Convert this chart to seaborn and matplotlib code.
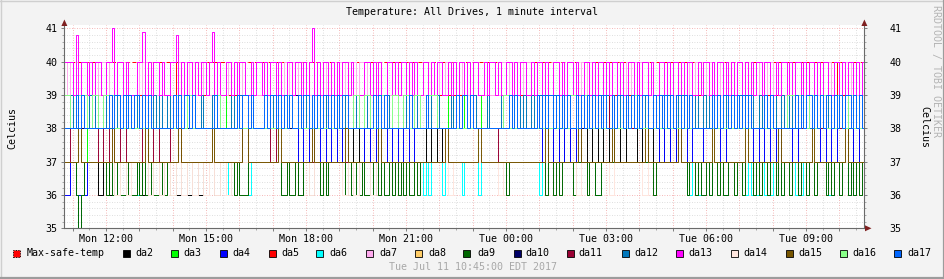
import datetime as dt
import numpy as np
import pandas as pd
import matplotlib
matplotlib.use("Agg")
import matplotlib.pyplot as plt
import matplotlib.dates as mdates
from matplotlib.ticker import MultipleLocator, FuncFormatter
from matplotlib.patches import Rectangle, Polygon
from matplotlib.lines import Line2D
import seaborn as sns

# ---------------- data ----------------
TITLE = "Temperature: All Drives, 1 minute interval"
Y_LABEL = "Celcius"
STAMP = "Tue Jul 11 10:45:00 EDT 2017"
WATERMARK = "RRDTOOL / TOBI OETIKER"
START = "2017-07-10 10:45"
END = "2017-07-11 10:45"
FINE_MIN = 5      # sampling of the dense series (minutes)
COARSE_MIN = 10   # sampling of the sparse series (minutes)
Y_MIN, Y_MAX = 35, 41

series_names = ["Max-safe-temp", "da2", "da3", "da4", "da5", "da6", "da7", "da8", "da9",
                "da10", "da11", "da12", "da13", "da14", "da15", "da16", "da17"]
series_colors = ["#FF0000", "#000000", "#00FF00", "#0000FF", "#FF0000", "#00FFFF", "#FFAAEE",
                 "#FFCC66", "#006600", "#000066", "#990033", "#0077BB", "#FF00FF", "#FFE6DE",
                 "#775500", "#88FF88", "#0066FF"]

max_safe_temp = [40, 40]

da2 = [37,37,37,37,37,37,36,37,36,37,37,37,
       37,37,36,37,37,36,37,37,36,37,36,37,
       36,37,37,36,37,37,37,37,37,37,37,37,
       37,37,37,37,37,37,36,37,36,37,37,37,
       37,37,38,37,38,37,38,37,37,37,37,37,
       37,37,37,37,37,38,37,38,37,37,37,37,
       37,37,37,37,37,37,37,37,37,37,37,37,
       37,37,37,38,37,38,37,38,38,37,38,37,
       38,37,38,37,38,37,37,38,37,38,37,38,
       37,38,37,37,37,37,37,37,37,37,37,37,
       37,37,37,37,37,37,37,37,37,37,37,37,
       37,37,37,37,37,37,37,37,37,38,37,38]

da3 = [38,38,38,37,38,38,38,38,38,38,38,38,
       38,38,38,38,38,38,38,38,39,38,38,38,
       38,38,38,38,38,39,38,38,38,38,38,38,
       38,38,38,38,38,38,38,38,38,38,39,38,
       38,38,39,38,38,39,38,38,38,39,38,38,
       38,38,39,38,38,38,39,38,38,39,38,38,
       39,38,38,39,38,38,38,38,39,38,38,38,
       38,38,39,38,38,38,38,38,38,38,38,38,
       39,38,38,38,38,38,38,38,38,38,38,38,
       38,38,38,38,39,38,38,38,38,38,38,38,
       38,38,38,38,38,39,38,39,38,38,38,38,
       38,38,38,38,38,38,38,38,39,38,38,38]

da4 = [36,37,36,36,37,37,37,37,37,37,37,37,
       37,37,37,37,37,37,37,37,37,37,37,37,
       37,37,37,37,37,37,37,37,38,37,37,37,
       37,37,37,37,37,37,38,37,38,37,38,37,
       38,37,38,37,37,37,38,37,38,37,38,37,
       38,37,38,37,37,37,37,37,37,37,37,37,
       37,37,37,37,37,37,37,37,37,37,37,37,
       37,37,38,37,38,37,38,37,38,37,37,37,
       37,37,37,37,37,37,37,37,37,37,37,38,
       37,38,37,38,37,38,38,37,37,37,38,37,
       37,37,37,37,38,37,38,37,38,37,37,38,
       37,37,37,37,38,37,38,37,37,37,38,37]

da5 = [39,39,39,39,39,39,39,39,40,39,39,39,
       39,39,39,39,39,39,39,39,40,39,39,39,
       39,39,40,39,39,39,39,39,39,39,39,39,
       39,39,40,39,39,39,39,39,40,39,39,39,
       39,39,40,39,39,39,39,39,39,39,39,39,
       39,39,39,39,39,39,39,39,40,39,39,39,
       39,39,39,39,39,39,39,39,39,39,39,39,
       39,39,39,39,39,39,39,39,39,39,40,39,
       39,39,39,39,39,39,39,40,39,39,39,39,
       39,39,39,39,39,39,39,39,39,39,39,39,
       39,39,39,39,40,39,39,39,39,39,39,39,
       39,40,39,39,39,39,40,39,39,40,39,39]

da6 = [37,37,37,37,36,35,36,37,37,37,37,37,37,37,37,37,37,37,37,37,37,37,37,37,
       37,37,36,37,37,37,37,37,37,37,37,37,37,37,37,37,37,37,37,37,37,37,37,37,
       37,37,37,37,37,37,37,37,37,37,37,36,37,37,37,37,37,37,36,37,37,37,37,37,
       37,37,37,37,37,37,37,37,37,37,37,37,37,37,37,37,37,37,37,37,37,37,37,37,
       37,37,37,37,37,37,37,37,37,37,37,37,37,37,37,37,37,37,37,37,37,37,37,37,
       37,37,37,37,37,37,37,37,37,36,37,36,37,37,37,37,36,37,37,37,37,37,37,36,
       37,37,37,37,37,36,37,37,37,37,37,37,37,37,37,37,37,37,37,37,37,37,37,37,
       37,37,37,36,37,37,37,37,37,37,37,37,37,37,37,37,37,37,37,37,37,37,37,36,
       36,37,37,37,37,37,37,37,37,37,37,37,37,37,37,37,37,37,37,37,37,37,37,37,
       37,37,37,37,37,37,37,37,36,36,37,37,36,37,37,37,36,37,37,37,37,36,36,37,
       37,37,37,37,37,36,37,36,37,36,37,37,36,37,36,37,37,37,36,37,37,37,37,36,
       37,36,37,36,37,37,37,37,37,37,37,36,36,37,37,37,37,37,36,37,36,37,37,37]

da7 = [40,39,40,39,39,39,39,39,39,39,39,40,39,40,40,39,40,41,39,39,39,39,39,39,
       39,39,39,40,39,40,39,39,39,39,39,39,39,39,39,39,39,40,39,40,40,39,40,39,
       40,39,40,39,39,39,39,39,39,39,39,40,39,40,39,40,39,39,39,39,39,39,39,39,
       40,39,40,40,39,40,39,40,40,39,40,39,40,39,39,39,39,39,39,39,39,40,39,39,
       39,39,39,40,39,40,40,39,40,39,40,40,39,40,39,39,39,39,39,39,39,39,39,39,
       39,39,39,39,39,39,39,39,39,39,39,39,39,39,39,40,39,40,40,39,40,39,40,39,
       39,39,39,39,39,39,39,39,39,39,39,39,39,40,40,39,40,40,39,40,40,39,40,40,
       40,39,40,40,39,40,39,39,39,39,39,39,39,39,39,39,40,39,40,40,39,40,39,39,
       40,40,39,40,39,40,40,39,40,39,40,40,39,40,39,40,39,39,39,39,39,39,39,39,
       39,39,39,39,39,39,39,39,39,40,39,40,40,39,40,39,40,40,39,40,39,39,39,39,
       39,39,39,39,39,39,39,39,39,39,40,40,39,40,40,39,40,39,39,39,39,39,39,39,
       39,39,39,39,39,39,39,39,39,39,39,40,39,40,40,39,40,40,39,40,39,39,39,39]

da8 = [38,38,38,38,38,38,38,38,39,38,38,38,
       38,38,38,38,38,38,38,38,38,38,38,38,
       38,38,38,38,38,38,38,38,38,38,38,38,
       38,38,38,38,38,38,38,38,38,38,38,38,
       38,38,38,38,38,38,38,38,38,38,38,38,
       38,38,38,38,38,38,38,38,38,38,38,38,
       38,38,38,38,38,38,38,38,38,38,38,38,
       38,38,38,38,38,39,38,38,38,38,38,38,
       38,38,38,38,38,38,38,38,38,38,38,38,
       38,38,38,38,38,38,38,38,38,38,38,38,
       38,38,38,38,38,38,38,38,38,38,38,38,
       38,38,38,38,38,38,38,38,38,38,38,38]

da9 = [37,37,37,37,36,35,36,37,37,37,37,37,37,37,37,36,37,36,36,37,36,36,37,36,
       36,36,37,36,37,36,36,37,36,36,37,36,36,37,36,36,37,37,37,37,37,37,37,37,
       37,37,37,37,37,37,37,37,37,37,37,37,37,36,37,36,36,36,37,37,37,37,37,37,
       37,37,37,37,37,37,36,36,37,36,36,37,36,36,37,37,37,37,37,37,36,37,36,37,
       37,37,37,37,37,36,37,36,36,37,36,37,36,36,37,36,37,36,37,36,36,37,36,37,
       36,37,36,37,36,36,37,36,37,37,37,37,37,37,37,37,37,37,37,37,37,37,37,37,
       37,37,37,37,37,37,37,37,37,37,37,37,37,37,37,36,37,37,37,37,37,37,37,37,
       37,37,37,37,37,36,37,37,36,37,36,37,37,37,37,36,37,37,37,37,36,37,37,36,
       36,37,37,37,37,37,37,37,37,37,37,37,37,37,37,37,37,37,37,37,36,37,37,37,
       37,37,37,37,37,37,37,37,36,37,37,36,37,36,36,37,36,37,37,36,37,36,36,37,
       37,36,37,37,36,37,37,37,36,37,36,37,37,36,37,37,36,37,36,37,37,36,37,37,
       36,37,37,36,37,37,36,37,37,37,36,37,36,37,37,36,37,37,36,37,36,37,36,37]

da10 = [38,38,38,38,38,38,38,38,38,38,38,38,
        38,38,38,38,38,38,38,38,38,38,38,38,
        38,38,38,38,38,38,38,38,38,38,38,38,
        38,38,38,38,38,39,38,38,38,38,38,38,
        38,38,38,38,39,38,38,38,38,38,38,38,
        38,38,38,38,38,38,38,38,38,38,38,38,
        38,38,38,38,38,38,38,38,38,38,38,38,
        38,38,38,38,39,38,39,38,38,38,38,38,
        38,38,39,38,38,38,38,38,38,38,39,38,
        39,38,39,38,38,38,38,38,38,38,38,38,
        38,38,38,38,38,38,38,38,38,38,38,38,
        38,38,38,38,38,39,38,38,38,38,38,38]

da11 = [38,37,37,37,37,37,38,37,38,37,38,37,
        37,37,38,37,38,37,37,38,38,37,37,37,
        37,37,37,37,37,37,37,37,37,37,37,37,
        37,38,37,37,37,37,37,37,37,37,37,37,
        37,37,37,37,37,37,37,37,37,37,37,37,
        37,37,37,37,37,37,37,37,37,37,37,37,
        37,37,37,37,37,37,38,38,38,38,38,38,
        38,38,38,38,38,39,38,39,38,39,39,38,
        39,38,39,38,38,38,38,38,38,38,38,38,
        39,38,39,39,38,38,38,38,38,38,38,38,
        38,38,38,38,38,38,38,38,38,38,38,38,
        38,38,38,38,38,38,38,38,38,38,38,38]

da12 = [38,38,39,38,38,39,39,38,38,39,38,39,38,38,39,38,38,39,38,39,38,38,39,38,
        39,38,39,38,38,39,38,38,39,38,39,38,38,39,38,38,38,39,38,38,39,38,39,38,
        38,39,38,38,38,39,38,39,38,38,38,38,39,38,38,39,38,38,38,39,38,38,38,38,
        38,38,38,39,38,38,39,38,38,39,38,38,39,38,39,38,38,38,39,38,38,39,38,38,
        39,38,39,38,38,39,38,38,38,39,38,38,38,39,38,38,39,38,38,38,39,38,38,38,
        38,38,39,38,38,38,39,38,38,38,38,39,38,38,39,38,38,38,38,39,38,38,38,38,
        38,38,38,39,38,38,38,38,39,38,38,38,38,39,38,38,39,38,38,39,38,39,38,38,
        39,38,38,39,38,39,38,38,39,38,39,38,38,39,38,38,39,38,39,38,38,38,39,38,
        38,39,38,39,39,38,38,39,38,39,38,38,39,38,39,38,38,39,38,38,39,38,38,39,
        38,39,38,38,39,38,39,38,38,39,38,39,38,38,39,38,39,38,38,39,38,38,39,38,
        39,38,38,39,38,39,38,39,38,38,39,38,39,38,38,39,38,38,39,38,39,38,39,38,
        38,39,38,39,38,38,39,38,39,38,39,38,38,39,38,39,38,39,38,38,39,38,39,38]

da13 = [40,40,40,39,40.8,39,40,40,39,40,39,40,40,39,39,40,40,41,39,40,40,39,40,39,
        39,39,40,40,40.9,39,40,39,40,40,39,40,39,39,40,40,40.8,39,40,39,40,40,39,40,
        39,40,40,39,40,40.9,39,40,39,39,40,40,39,40,39,40,40,39,39,40,39,40,40,39,
        40,39,40,40,39,40,39,39,40,40,39,40,40,39,40,39,40,41,39,40,39,40,40,39,
        40,39,40,39,40,40,39,40,39,39,39,39,40,40,39,40,39,40,39,39,40,40,39,40,
        39,40,40,39,40,39,40,39,39,40,40,39,40,39,40,40,39,39,40,39,40,39,40,40,
        39,40,39,40,40,39,39,40,39,40,40,39,40,39,39,40,40,39,40,39,40,40,39,39,
        40,39,40,40,39,40,39,39,40,40,39,40,39,40,40,39,40,39,39,40,40,39,40,39,
        40,40,39,40,39,40,40,39,40,39,39,40,40,39,40,39,40,40,39,40,39,39,40,40,
        39,40,39,40,40,39,40,39,40,40,39,39,40,39,40,40,39,40,39,40,40,39,40,39,
        40,39,40,40,39,40,39,40,39,40,40,39,40,40,39,39,40,39,40,40,39,40,39,40,
        40,39,40,39,40,40,39,40,39,40,40,39,39,40,40,39,40,39,40,40,39,40,39,40]

da14 = [37,37,37,37,37,37,37,37,37,36,37,36,
        37,37,37,36,37,36,37,36,37,36,37,36,
        37,36,37,36,37,36,37,37,37,37,37,37,
        37,37,37,37,37,37,37,37,36,37,37,37,
        37,37,36,37,36,37,37,36,37,37,37,37,
        37,37,37,37,37,37,37,37,37,36,37,37,
        37,37,37,37,37,37,36,37,37,37,37,37,
        37,37,37,37,37,37,37,37,36,37,37,37,
        37,37,36,37,37,37,37,37,36,37,37,37,
        37,37,37,37,37,37,37,37,37,37,37,37,
        37,37,37,37,37,37,37,37,37,37,37,37,
        37,37,37,37,37,37,37,37,37,37,37,37]

da15 = [37,37,37,37,37,38,37,37,37,37,37,37,37,37,37,37,37,39,37,37,37,37,37,37,
        37,37,37,37,37,38,37,37,37,37,37,37,37,37,37,37,37,38,37,37,37,37,37,37,
        37,37,37,37,37,38,37,37,37,37,37,37,37,37,37,37,38,38,37,37,37,37,37,37,
        37,37,37,37,37,38,37,37,37,37,37,37,37,37,37,37,37,38,37,37,37,37,37,37,
        37,37,37,37,37,38,37,37,37,37,37,37,37,37,37,37,37,38,37,37,37,37,37,37,
        37,37,37,37,37,37,37,37,37,37,37,37,37,37,37,37,37,38,37,37,37,37,37,37,
        37,37,37,37,37,38,37,37,37,37,37,37,37,37,37,37,37,37,37,37,37,37,37,37,
        37,37,37,37,37,38,37,37,37,37,37,37,37,37,37,37,37,38,37,37,37,37,37,37,
        37,37,37,37,37,38,37,37,37,37,37,37,37,37,37,37,37,38,37,37,37,37,37,37,
        37,37,37,37,37,38,37,37,37,37,37,37,37,37,37,37,37,38,37,37,37,37,37,37,
        37,37,37,37,37,38,37,37,37,37,37,37,37,37,37,37,37,38,37,37,37,37,37,37,
        37,37,37,37,37,38,37,37,37,37,37,37,37,37,37,37,37,38,37,37,37,37,37,37]

da16 = [39,38,39,39,38,39,38,39,39,38,38,38,
        38,38,38,38,38,38,38,38,39,38,39,38,
        38,38,38,39,38,38,38,38,38,38,38,38,
        38,38,38,38,39,38,38,38,38,38,38,38,
        38,38,39,38,39,38,39,38,38,39,38,39,
        38,39,38,39,38,39,39,38,38,38,38,38,
        38,38,38,38,38,38,38,39,38,38,38,38,
        38,38,38,38,38,38,38,39,38,39,38,38,
        38,38,38,38,38,38,39,38,38,38,38,38,
        38,38,38,38,38,38,38,38,38,38,38,38,
        38,38,38,38,38,38,38,38,38,38,39,39,
        39,38,39,38,39,38,38,39,38,39,38,38]

da17 = [38,38,38,38,39,38,39,38,38,38,38,38,38,38,38,38,39,38,39,39,38,39,38,39,
        38,39,39,38,39,38,39,38,38,38,38,38,38,38,38,39,38,39,38,39,39,38,39,38,
        38,38,38,38,38,38,39,38,38,38,38,38,38,38,39,38,39,39,38,39,38,38,38,38,
        39,38,39,39,38,39,38,39,38,39,38,38,39,38,39,39,38,39,38,39,38,39,39,38,
        39,38,39,38,39,39,38,38,38,38,38,38,38,38,38,39,38,39,38,39,38,38,38,38,
        38,38,38,38,39,38,38,38,38,38,39,38,38,38,38,38,38,38,38,38,38,39,38,39,
        39,38,39,38,38,38,38,38,38,38,38,38,38,38,38,38,39,38,39,38,38,38,38,38,
        38,38,39,38,39,38,39,39,38,39,38,39,38,39,38,38,39,38,39,38,39,38,39,38,
        39,38,39,38,38,39,38,39,39,38,39,38,39,38,39,38,39,39,38,38,39,38,39,38,
        39,38,39,38,39,39,38,39,38,39,38,38,38,38,38,38,38,39,38,39,38,39,39,38,
        39,38,39,38,39,38,39,38,38,38,38,38,39,38,39,38,38,38,38,38,38,38,38,39,
        38,39,38,39,39,38,39,38,39,38,39,39,38,39,38,39,38,39,39,38,39,38,39,38]

series_values = [max_safe_temp, da2, da3, da4, da5, da6, da7, da8, da9, da10, da11,
                 da12, da13, da14, da15, da16, da17]
series_step = [None, COARSE_MIN, COARSE_MIN, COARSE_MIN, COARSE_MIN, FINE_MIN, FINE_MIN,
               COARSE_MIN, FINE_MIN, COARSE_MIN, COARSE_MIN, FINE_MIN, FINE_MIN,
               COARSE_MIN, FINE_MIN, COARSE_MIN, FINE_MIN]

# ---------------- layout ----------------
W, H = 945, 279
FONT = "DejaVu Sans Mono"
FS = 7.2
plt.rcParams["font.family"] = [FONT, "DejaVu Sans"]

def fx(x):
    return x / W

def fy(y):
    return 1 - y / H

AX_L, AX_R = 64.4, 864.4
AX_TOP, AX_BOT = 25.0, 228.3
PX_PER_DEG = 33.333

fig = plt.figure(figsize=(W / 100, H / 100), dpi=100, facecolor="#F3F3F3")
ax = fig.add_axes([fx(AX_L), fy(AX_BOT), (AX_R - AX_L) / W, (AX_BOT - AX_TOP) / H])
ax.set_facecolor("white")

t_start, t_end = pd.Timestamp(START), pd.Timestamp(END)

for name, color, vals, step in zip(series_names, series_colors, series_values, series_step):
    if step is None:
        t = pd.DatetimeIndex([t_start, t_end])
        v = list(vals)
    else:
        t = pd.date_range(t_start, periods=len(vals), freq=f"{step}min")
        t = t.append(pd.DatetimeIndex([t_end]))
        v = list(vals) + [vals[-1]]
    df = pd.DataFrame({"time": t, "temp": v})
    sns.lineplot(data=df, x="time", y="temp", ax=ax, color=color, linewidth=0.7,
                 drawstyle="steps-post", estimator=None, legend=False)
    if step is None:
        ax.lines[-1].set_dashes((4, 3))

ax.set_xlabel("")
ax.set_ylabel("")
ax.set_xlim(t_start, t_end)
ax.set_ylim(Y_MIN, Y_MIN + (AX_BOT - AX_TOP) / PX_PER_DEG)

ax.xaxis.set_major_locator(mdates.HourLocator(interval=1))
ax.xaxis.set_minor_locator(mdates.MinuteLocator(byminute=[30]))

def xfmt(x, pos):
    d = mdates.num2date(x) + dt.timedelta(seconds=30)
    if d.hour % 3 == 0 and d.minute == 0:
        return d.strftime("%a %H:%M")
    return ""

ax.xaxis.set_major_formatter(FuncFormatter(xfmt))
ax.yaxis.set_major_locator(MultipleLocator(1))
ax.yaxis.set_minor_locator(MultipleLocator(0.2))
ax.yaxis.set_major_formatter(FuncFormatter(lambda v, p: f"{v:.0f}" if v <= Y_MAX + 0.01 else ""))

ax.set_axisbelow(True)
ax.grid(True, which="minor", color="#D4D4D4", linestyle=(0, (1, 2)), linewidth=0.6)
ax.grid(True, which="major", color="#F2A0A0", linestyle=(0, (1, 2)), linewidth=0.6)

for s in ["top", "right"]:
    ax.spines[s].set_visible(False)
for s in ["left", "bottom"]:
    ax.spines[s].set_color("#6A6A6A")
    ax.spines[s].set_linewidth(0.8)

ax.tick_params(axis="y", which="major", length=2.2, width=0.6, color="#6A6A6A",
               direction="out", pad=2.6, labelsize=FS, labelcolor="black")
ax.tick_params(axis="y", which="minor", length=1.2, width=0.5, color="#8A8A8A", direction="out")
ax.tick_params(axis="x", which="major", length=2.0, width=0.6, color="#6A6A6A",
               direction="out", pad=2.2, labelsize=FS, labelcolor="black")
ax.tick_params(axis="x", which="minor", length=1.2, width=0.5, color="#8A8A8A", direction="out")
for lab in ax.get_xticklabels() + ax.get_yticklabels():
    lab.set_fontfamily(FONT)

ax2 = ax.twinx()
ax2.set_ylim(ax.get_ylim())
ax2.yaxis.set_major_locator(MultipleLocator(1))
ax2.yaxis.set_minor_locator(MultipleLocator(0.2))
ax2.yaxis.set_major_formatter(FuncFormatter(lambda v, p: f"{v:.0f}" if v <= Y_MAX + 0.01 else ""))
for s in ["top", "left", "bottom"]:
    ax2.spines[s].set_visible(False)
ax2.spines["right"].set_color("#6A6A6A")
ax2.spines["right"].set_linewidth(0.8)
ax2.tick_params(axis="y", which="major", length=2.2, width=0.6, color="#6A6A6A",
                direction="out", pad=16, labelsize=FS, labelcolor="black")
ax2.tick_params(axis="y", which="minor", length=1.2, width=0.5, color="#8A8A8A", direction="out")
for lab in ax2.get_yticklabels():
    lab.set_fontfamily(FONT)

# arrows
arrow_c = "#7F2020"
for xa in (AX_L, AX_R):
    fig.add_artist(Polygon([(fx(xa - 3), fy(26)), (fx(xa + 3), fy(26)), (fx(xa), fy(19.5))],
                           closed=True, transform=fig.transFigure, color=arrow_c, lw=0))
fig.add_artist(Polygon([(fx(865), fy(225.3)), (fx(865), fy(231.3)), (fx(871.5), fy(228.3))],
                       closed=True, transform=fig.transFigure, color=arrow_c, lw=0))

# texts
fig.text(fx(472.5), fy(12), TITLE, ha="center", va="center", fontsize=FS, family=FONT)
fig.text(fx(12), fy(128), Y_LABEL, ha="center", va="center", rotation=90, fontsize=FS, family=FONT)
fig.text(fx(924.5), fy(127), Y_LABEL, ha="center", va="center", rotation=270, fontsize=FS, family=FONT)
fig.text(fx(936), fy(71), WATERMARK, ha="center", va="center", rotation=270, fontsize=FS,
         family=FONT, color="#B4B4B4")
fig.text(fx(473), fy(267.5), STAMP, ha="center", va="center", fontsize=FS, family=FONT, color="#A8A8A8")

# legend
sw_x = [13, 123, 171, 220, 269, 316, 366, 415, 463, 514, 567, 622, 676, 731, 786, 840, 894]
tx_x = [27, 135, 183, 232, 281, 329, 379, 428, 477, 525, 578, 634, 688, 743, 798, 852, 907]
LEG_Y = 253.3
for i, (name, color) in enumerate(zip(series_names, series_colors)):
    rect = Rectangle((fx(sw_x[i]), fy(LEG_Y + 3.5)), 7 / W, 7 / H, transform=fig.transFigure,
                     facecolor=color, edgecolor="black", linewidth=0.6,
                     linestyle=(0, (1.5, 1.5)) if i == 0 else "-")
    fig.add_artist(rect)
    fig.text(fx(tx_x[i]), fy(LEG_Y), name, ha="left", va="center", fontsize=FS, family=FONT)

# frame
fig.add_artist(Line2D([0, 1], [fy(0.5), fy(0.5)], transform=fig.transFigure, color="#CFCFCF", lw=1.0))
fig.add_artist(Line2D([fx(0.5), fx(0.5)], [0, 1], transform=fig.transFigure, color="#CFCFCF", lw=1.0))
fig.add_artist(Line2D([0, 1], [fy(278), fy(278)], transform=fig.transFigure, color="#9C9C9C", lw=1.6))
fig.add_artist(Line2D([fx(944), fx(944)], [0, 1], transform=fig.transFigure, color="#9C9C9C", lw=1.6))

fig.savefig("out.png", dpi=100, facecolor=fig.get_facecolor())
